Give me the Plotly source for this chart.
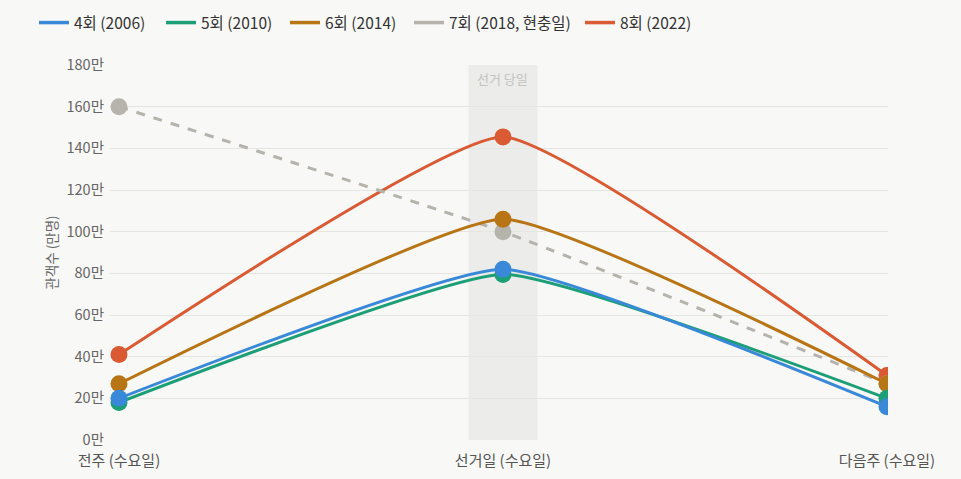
import plotly.graph_objects as go

categories = ["전주 (수요일)", "선거일 (수요일)", "다음주 (수요일)"]
series_names = ["4회 (2006)", "5회 (2010)", "6회 (2014)", "7회 (2018, 현충일)", "8회 (2022)"]
s4 = [20, 82, 16]
s5 = [18, 79.5, 20]
s6 = [27, 106, 27]
s7 = [160, 100, 27]
s8 = [41, 145.5, 31]
series_values = [s4, s5, s6, s7, s8]
colors = ["#3a89d8", "#1c9e76", "#b87516", "#b5b3ac", "#d95a33"]
dashes = ["solid", "solid", "solid", "dash", "solid"]
y_ticks = [0, 20, 40, 60, 80, 100, 120, 140, 160, 180]
y_tick_labels = [f"{v}만" for v in y_ticks]

FONT = "Noto Sans CJK KR, Noto Sans, sans-serif"
legend_px = [40, 167, 291, 415, 586]
legend_ids = ["legend", "legend2", "legend3", "legend4", "legend5"]

fig = go.Figure()

# legend-only entries (line symbol only)
for name, c, lid in zip(series_names, colors, legend_ids):
    fig.add_trace(go.Scatter(
        x=[None], y=[None], name=name, mode="lines",
        line=dict(color=c, width=3.5), legend=lid, hoverinfo="skip",
    ))

# data traces, drawn so that earlier series are on top
for name, vals, c, d in reversed(list(zip(series_names, series_values, colors, dashes))):
    fig.add_trace(go.Scatter(
        x=categories, y=vals, name=name, mode="lines+markers",
        line=dict(color=c, width=3, dash=d, shape="spline", smoothing=0.4),
        marker=dict(color=c, size=17), showlegend=False,
    ))

fig.add_shape(type="rect", xref="x", yref="paper", x0=0.91, x1=1.09, y0=0, y1=1,
              fillcolor="#ececea", line=dict(width=0), layer="below", opacity=1)
fig.add_annotation(x=1, xref="x", y=1, yref="paper", yanchor="top", yshift=-2,
                   text="선거 당일", showarrow=False,
                   font=dict(family=FONT, size=13, color="#c3c3c0"))

legend_common = dict(orientation="h", xref="container", yref="container",
                     xanchor="left", yanchor="middle", y=0.952,
                     font=dict(family=FONT, size=15.5, color="#333333"),
                     itemwidth=30, bgcolor="rgba(0,0,0,0)")
layout_legends = {}
for lid, px in zip(legend_ids, legend_px):
    layout_legends[lid] = dict(legend_common, x=(px - 6) / 961)

fig.update_layout(
    width=961, height=479,
    paper_bgcolor="#f8f8f6", plot_bgcolor="#f8f8f6",
    margin=dict(l=110, r=73, t=65, b=39),
    font=dict(family=FONT, size=13, color="#555555"),
    showlegend=True,
    xaxis=dict(type="category", range=[-0.0234, 2.0026], showgrid=False,
               zeroline=False, showline=False, ticks="", ticklabelstandoff=10,
               automargin=False,
               tickfont=dict(family=FONT, size=15, color="#555555")),
    yaxis=dict(range=[0, 180], tickvals=y_ticks, ticktext=y_tick_labels,
               showgrid=True, gridcolor="#e5e5e2", gridwidth=1, zeroline=False,
               showline=False, ticks="", ticklabelstandoff=5, automargin=False,
               title=dict(text="관객수 (만명)", standoff=5,
                          font=dict(family=FONT, size=13.5, color="#666666")),
               tickfont=dict(family=FONT, size=14.5, color="#666666")),
    **layout_legends,
)

fig.write_html("out.html")
